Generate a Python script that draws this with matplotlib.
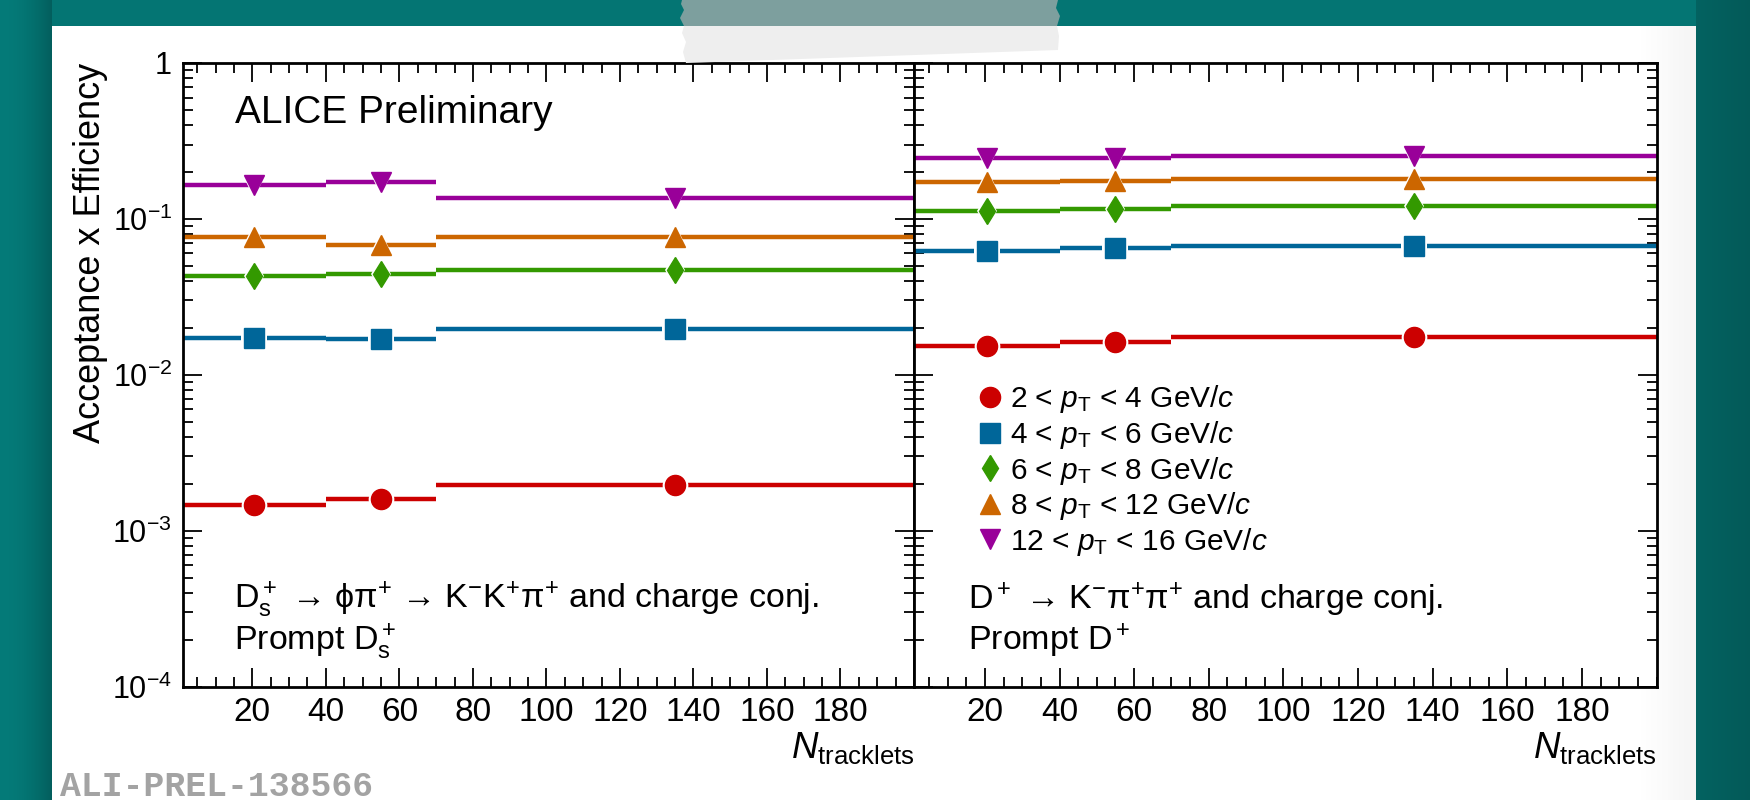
import numpy as np
import matplotlib
matplotlib.use("Agg")
import matplotlib.pyplot as plt
from matplotlib.lines import Line2D
from matplotlib.patches import Polygon
from matplotlib.ticker import FixedLocator, FixedFormatter, LogLocator, NullFormatter, MultipleLocator

plt.rcParams['font.family'] = ['Liberation Sans', 'DejaVu Sans']
plt.rcParams['mathtext.fontset'] = 'custom'
plt.rcParams['mathtext.rm'] = 'Liberation Sans'
plt.rcParams['mathtext.it'] = 'Liberation Sans:italic'
plt.rcParams['mathtext.bf'] = 'Liberation Sans:bold'
plt.rcParams['mathtext.sf'] = 'Liberation Sans'

# N_tracklets bins
bin_lo = [1, 40, 70]
bin_hi = [40, 70, 200]

pt_labels = [r'2 < $p_{\mathrm{T}}$ < 4 GeV/$c$',
             r'4 < $p_{\mathrm{T}}$ < 6 GeV/$c$',
             r'6 < $p_{\mathrm{T}}$ < 8 GeV/$c$',
             r'8 < $p_{\mathrm{T}}$ < 12 GeV/$c$',
             r'12 < $p_{\mathrm{T}}$ < 16 GeV/$c$']

# Ds+ acceptance x efficiency per pT bin
ds_2_4 = [0.00145, 0.00159, 0.00197]
ds_4_6 = [0.0173, 0.0170, 0.0197]
ds_6_8 = [0.0429, 0.0446, 0.0471]
ds_8_12 = [0.0763, 0.0684, 0.0770]
ds_12_16 = [0.165, 0.173, 0.136]

# D+ acceptance x efficiency per pT bin
dplus_2_4 = [0.01535, 0.0163, 0.01745]
dplus_4_6 = [0.0626, 0.0655, 0.0668]
dplus_6_8 = [0.113, 0.116, 0.1217]
dplus_8_12 = [0.172, 0.1745, 0.180]
dplus_12_16 = [0.245, 0.247, 0.255]

x_ticks = [20, 40, 60, 80, 100, 120, 140, 160, 180]
y_ticks = [1e-4, 1e-3, 1e-2, 1e-1, 1]
y_tick_labels = [r'$10^{-4}$', r'$10^{-3}$', r'$10^{-2}$', r'$10^{-1}$', '1']

# styles
colors = ['#cc0000', '#006699', '#339900', '#cc6600', '#990099']
markers = ['o', 's', 'd', '^', 'v']
msizes = [14.5, 14.5, 13.5, 14.5, 14.5]

W, H = 1750, 800
fig = plt.figure(figsize=(17.5, 8), dpi=100)


def fx(px):
    return px / W


def fy(py):
    return 1 - py / H


# background: teal frame + white card
bg = fig.add_axes([0, 0, 1, 1], zorder=-10)
bg.axis('off')
xx = np.arange(W)[None, :].repeat(H, 0).astype(float)
yy = np.arange(H)[:, None].repeat(W, 1).astype(float)
teal = np.array([4, 117, 115]) / 255.
shade = np.ones((H, W))
left = xx < 52
shade[left] = 1.05 - 0.25 * (xx[left] / 52) ** 2
right = xx >= 1696
shade[right] = 0.84 - 0.07 * ((xx[right] - 1696) / 54)
img = teal[None, None, :] * shade[:, :, None]
card = (xx >= 52) & (xx < 1696) & (yy >= 26)
grey = np.clip((xx - 1640) / 56, 0, 1) * 0.04
img[card] = (1 - grey[card])[:, None] * np.ones(3)
bg.imshow(np.clip(img, 0, 1), extent=[0, 1, 0, 1], aspect='auto')
bg.set_xlim(0, 1)
bg.set_ylim(0, 1)

ax1 = fig.add_axes([fx(182.5), fy(686.5), fx(914 - 182.5), (686.5 - 63) / H])
ax2 = fig.add_axes([fx(914), fy(686.5), fx(1656.5 - 914), (686.5 - 63) / H])

centers = [(a + b) / 2 for a, b in zip(bin_lo, bin_hi)]
xerr_lo = [c - a for c, a in zip(centers, bin_lo)]
xerr_hi = [b - c for c, b in zip(centers, bin_hi)]


def draw_panel(ax, series):
    for vals, c, m, ms in zip(series, colors, markers, msizes):
        ax.errorbar(centers, vals, xerr=[xerr_lo, xerr_hi], fmt='none',
                    ecolor=c, elinewidth=3.2, capsize=0)
        ax.plot(centers, vals, ls='none', marker=m, ms=ms + 4, color='white', mew=0)
        ax.plot(centers, vals, ls='none', marker=m, ms=ms, color=c, mec=c, mew=1)
    ax.set_yscale('log')
    ax.set_ylim(1e-4, 1)
    ax.set_xlim(1, 200)
    ax.yaxis.set_major_locator(FixedLocator(y_ticks))
    ax.yaxis.set_major_formatter(FixedFormatter(y_tick_labels))
    ax.yaxis.set_minor_locator(LogLocator(base=10, subs=np.arange(2, 10)))
    ax.yaxis.set_minor_formatter(NullFormatter())
    ax.xaxis.set_major_locator(FixedLocator(x_ticks))
    ax.xaxis.set_minor_locator(MultipleLocator(5))
    ax.tick_params(which='both', direction='in', top=True, right=True, width=1.3)
    ax.tick_params(which='major', length=14)
    ax.tick_params(which='minor', length=7)
    ax.tick_params(axis='x', pad=7.5, labelsize=24)
    ax.tick_params(axis='y', pad=7.5, labelsize=22)
    for s in ax.spines.values():
        s.set_linewidth(2)
    ax.text(1.0, -0.07, r'$N_{\mathrm{tracklets}}$', transform=ax.transAxes,
            ha='right', va='top', fontsize=26.5)


draw_panel(ax1, [ds_2_4, ds_4_6, ds_6_8, ds_8_12, ds_12_16])
draw_panel(ax2, [dplus_2_4, dplus_4_6, dplus_6_8, dplus_8_12, dplus_12_16])
ax2.tick_params(labelleft=False)

ax1.text(0.0718, 0.904, 'ALICE Preliminary', transform=ax1.transAxes, fontsize=28)
ax1.text(0.070, 0.125,
         r'$\mathrm{D_s^+}$ → ϕπ$^{+}$ → $\mathrm{K^{-}K^{+}}$π$^{+}$ and charge conj.',
         transform=ax1.transAxes, fontsize=24.5)
ax1.text(0.070, 0.058, r'Prompt $\mathrm{D_s^+}$', transform=ax1.transAxes, fontsize=24.5)
ax2.text(0.0724, 0.124, r'$\mathrm{D^+}$ → $\mathrm{K^{-}}$π$^{+}$π$^{+}$ and charge conj.',
         transform=ax2.transAxes, fontsize=24.5)
ax2.text(0.0724, 0.058, r'Prompt $\mathrm{D^+}$', transform=ax2.transAxes, fontsize=24.5)

handles = [Line2D([], [], ls='none', marker=m, ms=ms, color=c, mec=c)
           for c, m, ms in zip(colors, markers, msizes)]
ax2.legend(handles, pt_labels, loc='upper left', bbox_to_anchor=(0.0836, 0.486),
           frameon=False, fontsize=21.5, handlelength=0.95, handletextpad=0.2,
           labelspacing=0.12, borderpad=0, borderaxespad=0)

fig.text(fx(91), fy(63), 'Acceptance x Efficiency', rotation=90,
         ha='center', va='top', fontsize=26)

fig.text(fx(60), fy(786), 'ALI-PREL-138566', family='Liberation Mono',
         weight='bold', color='#a3a3a3', fontsize=25, va='center')

# sticky tape over the top edge of the card
tape_top = [(682, 0), (1058, 0), (1056, 8), (1060, 16), (1057, 26),
            (684, 26), (680, 18), (684, 10), (681, 4)]
tape_low = [(684, 26), (1057, 26), (1059, 36), (1058, 50),
            (686, 63), (683, 52), (686, 42), (682, 33)]
fig.add_artist(Polygon([(fx(a), fy(b)) for a, b in tape_top], closed=True,
                       transform=fig.transFigure, facecolor='#7d9f9e',
                       edgecolor='none', zorder=20))
fig.add_artist(Polygon([(fx(a), fy(b)) for a, b in tape_low], closed=True,
                       transform=fig.transFigure, facecolor='#eeeeee',
                       edgecolor='none', zorder=20))

fig.savefig('out.png', dpi=100)
